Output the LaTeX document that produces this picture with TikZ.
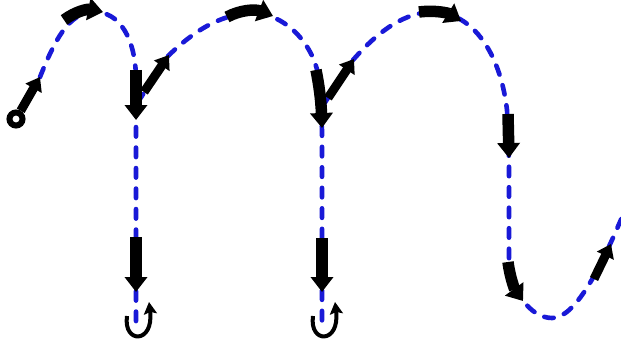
\documentclass[tikz,border=0pt]{standalone}
\usetikzlibrary{arrows.meta}
\definecolor{pathblue}{RGB}{25,25,215}
\begin{document}
\begin{tikzpicture}[x=1pt,y=-1pt,
  bluedash/.style={draw=pathblue, line width=4.6pt, dash pattern=on 9.5pt off 11pt, line cap=round},
  bigarrow/.style={draw=black, line width=11.5pt, -{Triangle[width=22pt,length=15pt]}},
  midarrow/.style={draw=black, line width=9pt, -{Triangle[width=18pt,length=13pt]}},
  uturn/.style={draw=black, line width=4pt, -{Stealth[width=13pt,length=12pt,inset=2pt]}},
  startring/.style={circle, draw=black, line width=6pt, fill=white, minimum size=13pt, inner sep=0pt}]
\useasboundingbox (0,0) rectangle (621,345);

% blue dashed path
\path[bluedash] (40,77) .. controls (55,40) and (68,14) .. (92,12)
  .. controls (120,10) and (136,40) .. (136,80) -- (136,322);
\path[bluedash] (138,102) -- (168,56);
\path[bluedash] (168,56) .. controls (195,30) and (220,15) .. (250,13)
  .. controls (285,12) and (315,45) .. (319,80) -- (322,130) -- (322,322);
\path[bluedash] (324,104) -- (353,60);
\path[bluedash] (353,60) .. controls (375,35) and (400,14) .. (430,12)
  .. controls (470,10) and (500,50) .. (507,110) -- (509,160) -- (509,258)
  .. controls (510,290) and (530,318) .. (552,318)
  .. controls (575,318) and (600,270) .. (625,210);

% start ring
\node[startring] (start) at (16,119) {};
\coordinate (a0) at (40,77);
\draw[midarrow] (start) -- (a0);

% first column
\draw[bigarrow] (64,20) .. controls (76,11) and (88,9) .. (103,12);
\draw[bigarrow] (136,70) -- (136,120);
\draw[bigarrow] (136,237) -- (136,292);
\draw[uturn] (127,316) .. controls (123,344) and (154,344) .. (149,302);

% second column
\draw[midarrow] (144,92) -- (169,55);
\draw[bigarrow] (227,17) .. controls (240,10) and (255,9) .. (273,16);
\draw[bigarrow] (316,70) .. controls (319,85) and (321,100) .. (322,128);
\draw[bigarrow] (322,238) -- (322,292);
\draw[uturn] (313,316) .. controls (309,344) and (340,344) .. (335,302);

% third column
\draw[midarrow] (328,98) -- (354,59);
\draw[bigarrow] (419,12) .. controls (435,10) and (448,13) .. (461,21);
\draw[bigarrow] (508,114) -- (509,158);
\draw[bigarrow] (508,262) .. controls (510,278) and (515,290) .. (523,301);
\draw[midarrow] (594,279) -- (611,244);
\end{tikzpicture}
\end{document}
